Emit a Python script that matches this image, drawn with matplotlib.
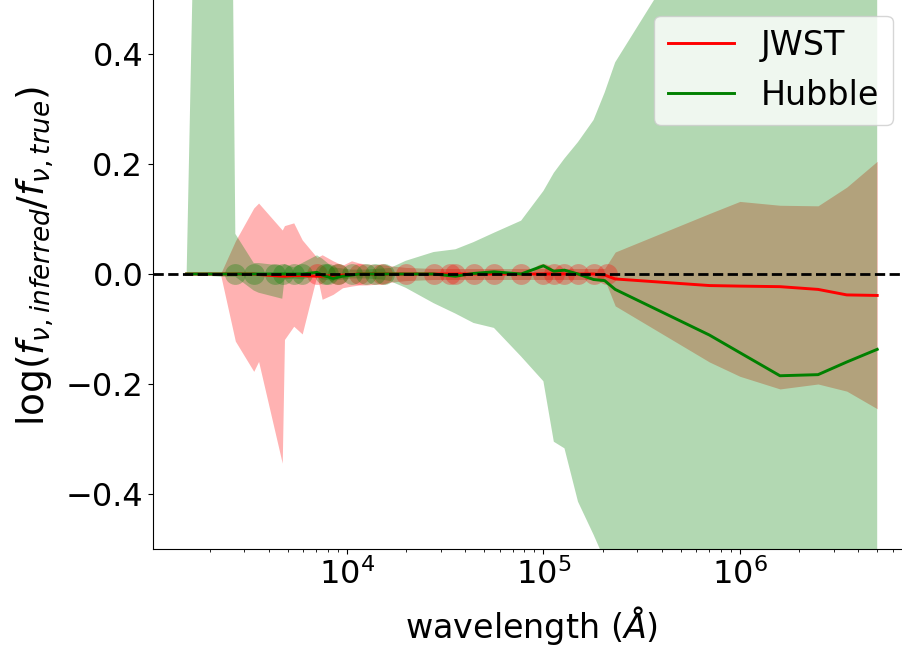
import numpy as np
import matplotlib
matplotlib.use("Agg")
import matplotlib.pyplot as plt

# wavelength grid (Angstrom) where both fits are evaluated
wave = [1528, 2271, 2704, 3355, 3551, 4686, 4810, 5361, 5922, 7040, 7480,
        8500, 9500, 10552, 11540, 12486, 15010, 16620, 19900, 27620, 35680,
        44080, 56000, 77000, 100000, 113000, 128000, 150000, 180000, 205000,
        232000, 700000, 1000000, 1600000, 2500000, 3500000, 5000000]

# JWST: median and spread of log(f_inferred / f_true)
jwst_med = [0, 0, 0, 0, -0.001, -0.004, -0.004, -0.003, -0.003, -0.004, -0.004,
            -0.003, -0.002, -0.001, 0, 0, 0, 0, 0, 0, 0,
            0, 0, 0, 0, 0, 0, 0, 0, -0.002,
            -0.009, -0.021, -0.022, -0.023, -0.028, -0.038, -0.039]
jwst_lo = [0, 0, -0.122, -0.177, -0.159, -0.344, -0.119, -0.095, -0.109, -0.002, -0.046,
           -0.037, -0.025, -0.022, -0.020, -0.020, -0.018, -0.015, -0.012, -0.010, -0.010,
           -0.010, -0.010, -0.010, -0.010, -0.010, -0.010, -0.010, -0.010, -0.010,
           -0.058, -0.160, -0.186, -0.209, -0.200, -0.213, -0.245]
jwst_hi = [0, 0, 0.060, 0.120, 0.129, 0.080, 0.088, 0.093, 0.062, 0.030, 0.035,
           0.024, 0.016, 0.024, 0.020, 0.018, 0.017, 0.015, 0.012, 0.010, 0.010,
           0.010, 0.010, 0.010, 0.010, 0.010, 0.010, 0.010, 0.010, 0.010,
           0.040, 0.110, 0.132, 0.125, 0.124, 0.158, 0.205]

# Hubble
hst_med = [0, 0, 0, 0, 0, 0, 0, 0, 0, 0.003, -0.002,
           -0.008, -0.004, -0.002, 0, 0, 0, 0, 0, 0, -0.004,
           0.001, 0.004, 0, 0.015, 0.005, 0.007, 0, -0.010, -0.012,
           -0.028, -0.111, -0.143, -0.185, -0.183, -0.160, -0.137]
hst_lo = [0, -0.005, -0.005, -0.030, -0.034, -0.045, -0.010, -0.008, -0.010, -0.002, -0.010,
          -0.012, -0.010, -0.008, -0.008, -0.008, -0.010, -0.013, -0.025, -0.053, -0.072,
          -0.089, -0.098, -0.150, -0.195, -0.305, -0.317, -0.414, -0.474, -0.520,
          -0.580, -0.800, -0.900, -1.000, -1.000, -1.000, -1.000]
hst_hi = [0, 3.0, 0.073, 0.020, 0.020, 0.015, 0.018, 0.012, 0.020, 0.034, 0.028,
          0.012, 0.010, 0.008, 0.008, 0.008, 0.010, 0.011, 0.024, 0.040, 0.045,
          0.058, 0.075, 0.097, 0.151, 0.184, 0.210, 0.240, 0.280, 0.330,
          0.385, 0.660, 0.800, 0.900, 1.000, 1.000, 1.000]

# filters used in each fit
hst_filters = [2704, 3355, 4329, 4750, 5361, 5922, 7693, 8045, 9033,
               10552, 12486, 13923, 15369]
jwst_filters = [7040, 9020, 11540, 15010, 19900, 27620, 33620, 35680, 44080,
                56000, 77000, 100000, 113000, 128000, 150000, 180000, 210000]

fig = plt.figure(figsize=(9.02, 6.51), dpi=100)
ax = fig.add_axes([0.1696, 0.1567, 0.8387, 0.8448])

ax.fill_between(wave, jwst_lo, jwst_hi, color="red", alpha=0.3, lw=0)
ax.fill_between(wave, hst_lo, hst_hi, color="green", alpha=0.3, lw=0)

ax.plot(jwst_filters, np.zeros(len(jwst_filters)), "o", color="red", alpha=0.3,
        ms=15, mew=0)
ax.plot(hst_filters, np.zeros(len(hst_filters)), "o", color="green", alpha=0.3,
        ms=15, mew=0)

ax.plot(wave, jwst_med, color="red", lw=2.1, label="JWST")
ax.plot(wave, hst_med, color="green", lw=2.1, label="Hubble")
ax.axhline(0, color="k", ls="--", lw=2)

ax.set_xscale("log")
ax.set_xlim(1030, 7.3e6)
ax.set_ylim(-0.5, 0.5)
ax.set_yticks([-0.4, -0.2, 0.0, 0.2, 0.4])
ax.tick_params(labelsize=23)
ax.set_xlabel(r"wavelength ($\AA$)", fontsize=24, labelpad=9)
ax.set_ylabel(r"log($f_{\nu, inferred}/f_{\nu, true}$)", fontsize=27)
ax.yaxis.set_label_coords(-0.128, 0.533)
ax.spines["top"].set_visible(False)
ax.spines["right"].set_visible(False)

ax.legend(fontsize=24, loc="upper right")

fig.savefig("out.png", dpi=100)
